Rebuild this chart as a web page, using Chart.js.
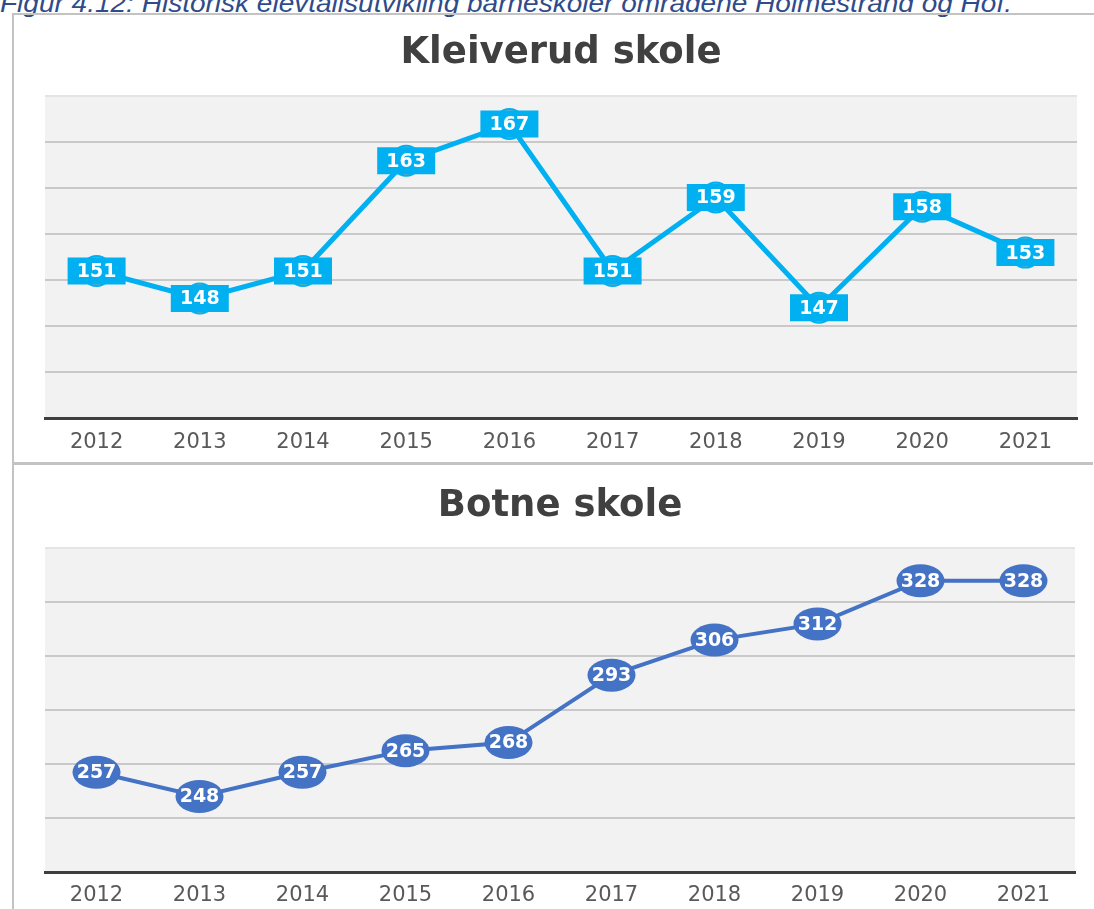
<!DOCTYPE html>
<html>
<head>
<meta charset="utf-8">
<script src="https://cdn.jsdelivr.net/npm/chart.js@4"></script>
<style>
  html, body { margin: 0; padding: 0; background: #fff; }
  body { width: 1094px; height: 909px; position: relative; overflow: hidden; }
  #caption {
    position: absolute; left: 0; top: -10px; white-space: nowrap;
    font: italic 26px "Liberation Sans", sans-serif; line-height: 26px;
    color: #2f4b8a; transform-origin: 0 0;
  }
  .rule { position: absolute; background: #c3c3c3; }
  .box { position: absolute; left: 14px; width: 1080px; }
</style>
</head>
<body>
<div id="caption">Figur 4.12: Historisk elevtallsutvikling barneskoler områdene Holmestrand og Hof.</div>
<div class="rule" style="left:12px; top:13px; width:1082px; height:2px;"></div>
<div class="rule" style="left:12px; top:13px; width:2px; height:896px;"></div>
<div class="rule" style="left:12px; top:462px; width:1081px; height:3px;"></div>
<div class="box" style="top:15px; height:447px;"><canvas id="kleiverudChart"></canvas></div>
<div class="box" style="top:465px; height:444px;"><canvas id="botneChart"></canvas></div>
<script>
const years = ['2012', '2013', '2014', '2015', '2016', '2017', '2018', '2019', '2020', '2021'];
const kleiverud = [151, 148, 151, 163, 167, 151, 159, 147, 158, 153];
const botne = [257, 248, 257, 265, 268, 293, 306, 312, 328, 328];
// y ranges read off the gridlines (no tick labels are shown)
const kleiverudRange = [135, 170, 5];
const botneRange = [220, 340, 20];

// fit the cut-off caption to the width it has in the picture
const cap = document.getElementById('caption');
cap.style.transform = 'scaleX(' + (1012 / cap.getBoundingClientRect().width) + ')';

const plotBg = {
    id: 'plotBg',
    beforeDraw(chart) {
        const {ctx, chartArea: a} = chart;
        ctx.save();
        ctx.fillStyle = '#f2f2f2';
        ctx.fillRect(a.left, a.top, a.right - a.left, a.bottom - a.top);
        ctx.restore();
    }
};

const valueLabels = {
    id: 'valueLabels',
    afterDatasetsDraw(chart, args, opts) {
        const ctx = chart.ctx;
        const values = chart.data.datasets[0].data;
        ctx.save();
        chart.getDatasetMeta(0).data.forEach((pt, i) => {
            const {x, y} = pt.getProps(['x', 'y'], true);
            ctx.fillStyle = opts.fill;
            ctx.beginPath();
            if (opts.shape === 'ellipse') {
                ctx.ellipse(x, y, opts.w / 2, opts.h / 2, 0, 0, Math.PI * 2);
            } else {
                ctx.rect(x - opts.w / 2, y - opts.h / 2, opts.w, opts.h);
            }
            ctx.fill();
            ctx.fillStyle = '#ffffff';
            ctx.font = 'bold 19px "DejaVu Sans"';
            ctx.textAlign = 'center';
            ctx.textBaseline = 'middle';
            ctx.fillText(String(values[i]), x, y + 1);
        });
        ctx.restore();
    }
};

function makeChart(id, title, values, range, style) {
    return new Chart(document.getElementById(id).getContext('2d'), {
        type: 'line',
        data: {
            labels: years,
            datasets: [{
                data: values,
                borderColor: style.color,
                borderWidth: style.lineWidth,
                pointRadius: style.pointRadius,
                pointBackgroundColor: '#a6a6a6',
                pointBorderColor: style.color,
                pointBorderWidth: 2,
                tension: 0
            }]
        },
        plugins: [plotBg, valueLabels],
        options: {
            responsive: true,
            maintainAspectRatio: false,
            animation: false,
            layout: {padding: style.padding},
            plugins: {
                legend: {display: false},
                tooltip: {enabled: false},
                title: {
                    display: true,
                    text: title,
                    color: '#404040',
                    font: {family: 'DejaVu Sans', size: 37, weight: 'bold'},
                    padding: style.titlePadding
                },
                valueLabels: style.label
            },
            scales: {
                x: {
                    offset: true,
                    afterFit: (s) => { s.height = style.axisHeight; },
                    grid: {display: false},
                    border: {display: true, color: '#3f3f3f', width: 3},
                    ticks: {
                        color: '#595959',
                        padding: style.tickPadding,
                        font: {family: 'DejaVu Sans', size: 21}
                    }
                },
                y: {
                    min: range[0],
                    max: range[1],
                    border: {display: false},
                    grid: {
                        drawTicks: false,
                        lineWidth: 2,
                        color: (c) => c.tick && c.tick.value === range[1] ? '#e4e4e4' : '#c9c9c9'
                    },
                    ticks: {display: false, stepSize: range[2]}
                }
            }
        }
    });
}

makeChart('kleiverudChart', 'Kleiverud skole', kleiverud, kleiverudRange, {
    color: '#00b0f0',
    lineWidth: 5,
    pointRadius: 15,
    padding: {left: 31, right: 17, top: 0, bottom: 0},
    titlePadding: {top: 16, bottom: 21},
    axisHeight: 44,
    tickPadding: 4,
    label: {shape: 'rect', fill: '#00b0f0', w: 58, h: 27}
});

makeChart('botneChart', 'Botne skole', botne, botneRange, {
    color: '#4472c4',
    lineWidth: 4,
    pointRadius: 0,
    padding: {left: 31, right: 19, top: 0, bottom: 0},
    titlePadding: {top: 19, bottom: 20},
    axisHeight: 37,
    tickPadding: 3,
    label: {shape: 'ellipse', fill: '#4472c4', w: 48, h: 33}
});
</script>
</body>
</html>
